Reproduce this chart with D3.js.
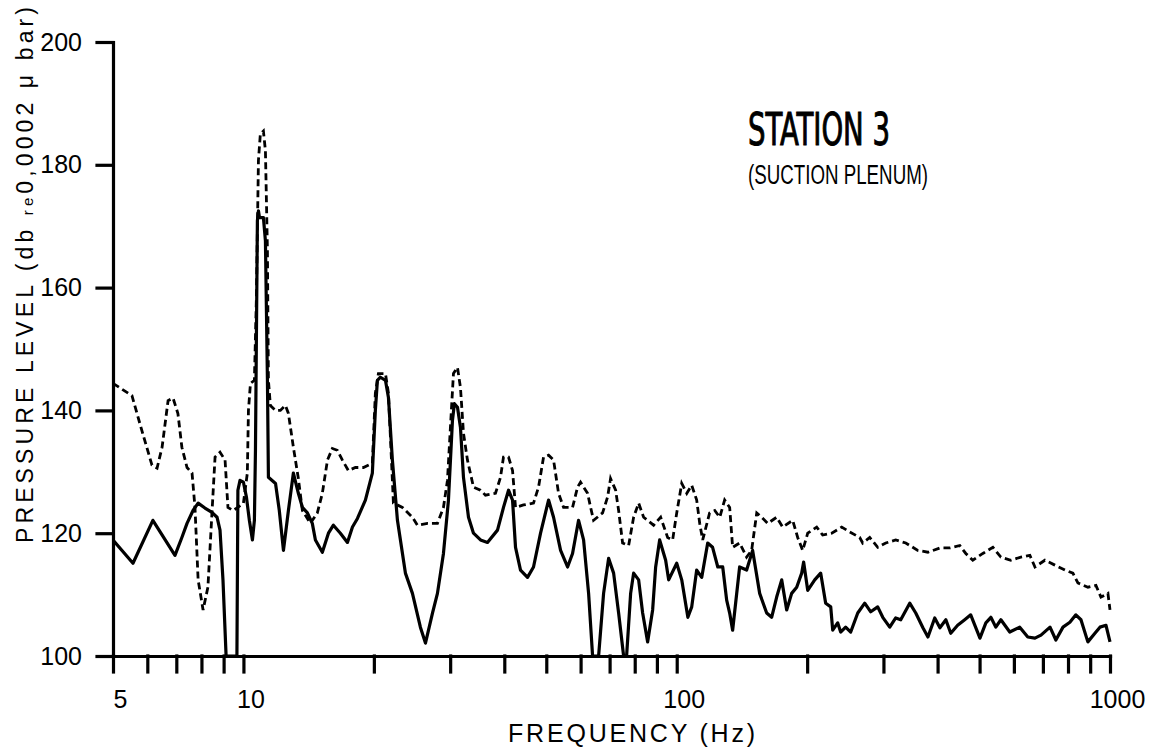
<!DOCTYPE html>
<html>
<head>
<meta charset="utf-8">
<script src="https://cdnjs.cloudflare.com/ajax/libs/d3/7.8.5/d3.min.js"></script>
<style>
  body { margin: 0; background: #fff; }
  svg { font-family: "Liberation Sans", Arial, sans-serif; }
  .axis path, .axis line { stroke: #000; stroke-width: 3.2; stroke-linecap: square; }
  .axis text { font-size: 25px; fill: #000; }
  path.solid { fill: none; stroke: #000; stroke-width: 3.2; stroke-linejoin: round; }
  path.dashed { fill: none; stroke: #000; stroke-width: 2.8; stroke-dasharray: 7,4; }
</style>
</head>
<body>
<script>

// frequency (Hz) / level (dB)
var solidFreq = [5, 5.56, 6.18, 6.56, 6.95, 7.21, 7.41, 7.65, 7.86, 8.15, 8.46, 8.69, 8.83, 8.97, 9.12, 9.66, 9.71, 9.82,
  10.0, 10.16, 10.32, 10.49, 10.6, 10.66, 10.77, 10.83, 10.89, 11.12, 11.24, 11.36, 11.42, 11.86, 12.1, 12.37, 12.7,
  13.04, 13.39, 13.68, 14.05, 14.42, 14.66, 15.21, 15.71, 16.13, 16.74, 17.38, 17.85, 18.33, 19.12, 19.84, 20.16,
  20.38, 20.71, 21.27, 21.61, 22.07, 22.67, 23.65, 24.55, 25.61, 26.31, 27.31, 28.04, 28.95, 29.73, 30.37, 30.69,
  31.19, 31.69, 32.2, 33.07, 33.96, 35.25, 36.58, 38.58, 39.83, 40.91, 41.79, 42.46, 43.6, 45.25, 46.72, 48.5,
  50.61, 51.97, 53.95, 55.99, 57.49, 59.36, 60.96, 62.61, 63.95, 66.03, 67.8, 69.63, 71.51, 73.44, 75.41, 76.62,
  78.28, 79.53, 81.68, 83.44, 85.68, 87.99, 89.41, 91.33, 94.29, 95.81,
  100, 102.7, 106.1, 108.3, 111.2, 114.2, 117.9, 121.0, 124.4, 127.7, 130.4, 132.5, 134.6, 139.7, 145.0, 149.7,
  155.4, 161.3, 165.6, 170.1, 174.7, 179.4, 184.2, 189.2, 194.3, 196.3, 200.6, 208.2, 214.9, 220.7, 226.7, 229.1,
  235.2, 239.0, 245.4, 252.1, 261.7, 271.6, 280.4, 291.0, 298.9, 310.2, 320.2, 328.9, 345.0, 356.2, 370, 380,
  394, 405, 418, 429, 445, 462, 477, 501, 517, 531, 545, 560, 587, 619, 646, 671, 693, 727, 750, 779, 808, 834,
  857, 889, 923, 948, 979, 1000];
var solidLevel = [118.9, 115.1, 122.1, 119.2, 116.4, 119.3, 121.6, 123.7, 124.9, 124.1, 123.4, 122.6, 120.5, 112.4, 100, 100, 127.0, 128.6,
  128.3, 125.9, 122.1, 118.9, 122.1, 133.5, 170.9, 172.5, 171.4, 171.4, 167.6, 144.9, 129.1, 128.1, 123.7, 117.2, 123.7,
  129.8, 126.5, 124.2, 123.3, 121.6, 118.9, 116.9, 120.0, 121.3, 120.0, 118.5, 121.0, 122.4, 125.4, 129.8, 140.0,
  144.9, 145.4, 144.9, 142.1, 131.9, 122.1, 113.5, 110.2, 104.7, 102.1, 107.0, 110.2, 116.7, 125.4, 138.4, 141.1,
  140.5, 137.2, 129.1, 122.6, 120.0, 118.9, 118.5, 120.5, 124.2, 127.0, 125.4, 117.7, 114.0, 112.8, 114.5, 120.0,
  125.4, 122.6, 117.2, 114.5, 116.7, 122.1, 118.9, 110.2, 100, 100, 110.2, 115.9, 113.5, 107.0, 100, 100,
  110.2, 113.5, 112.4, 107.0, 102.3, 107.5, 114.5, 118.9, 115.6, 112.4,
  115.1, 112.4, 106.3, 108.0, 114.0, 112.8, 118.4, 117.7, 114.5, 114.5, 109.1, 107.0, 104.2, 114.5, 114.0, 117.2,
  110.2, 107.0, 106.3, 109.6, 112.4, 107.5, 110.2, 111.2, 113.5, 115.3, 110.7, 112.4, 113.5, 108.6, 108.0, 104.2,
  105.4, 103.9, 104.7, 103.9, 107.0, 108.6, 107.2, 108.0, 106.3, 104.7, 106.2, 105.9, 108.6, 107.0, 104.6, 103.1,
  106.2, 104.6, 105.9, 103.7, 105.0, 105.9, 106.7, 102.9, 105.4, 106.3, 104.7, 105.9, 103.9, 104.7, 103.1, 102.9, 103.4, 104.7, 102.6, 104.7, 105.5, 106.7,
  105.9, 102.3, 103.7, 104.7, 105.0, 102.3];

var dashedFreq = [5, 5.53, 5.83, 6.15, 6.32, 6.49, 6.7, 6.88, 7.06, 7.21, 7.41, 7.61, 7.73, 7.86, 8.07, 8.28, 8.46, 8.6,
  8.83, 9.07, 9.21, 9.46, 9.71, 10.0, 10.21, 10.27, 10.38, 10.6, 10.71, 10.83, 10.94, 11.12, 11.24, 11.36, 11.42,
  11.54, 11.86, 12.17, 12.5, 12.7, 13.04, 13.39, 13.68, 14.27, 14.81, 15.21, 15.63, 16.04, 16.47, 16.92, 17.47,
  18.13, 18.92, 19.84, 20.16, 20.49, 21.27, 21.61, 22.19, 23.28, 24.55, 25.21, 26.59, 28.04, 28.95, 29.57, 30.04,
  30.53, 31.19, 31.69, 32.2, 32.89, 33.96, 35.25, 36.19, 38.17, 39.2, 39.83, 40.91, 41.79, 42.46, 44.3, 46.72,
  47.98, 49.28, 50.61, 51.97, 53.37, 54.81, 57.49, 59.04, 59.98, 62.27, 63.28, 64.29, 67.44, 69.26, 70.36, 72.28,
  73.44, 75.01, 77.45, 79.53, 81.68, 83.88, 88.46, 91.82, 95.3, 97.85,
  100, 102.7, 105.5, 108.3, 111.2, 113.0, 114.8, 119.1, 122.4, 125.7, 129.0, 132.5, 134.6, 139.7, 145.0, 148.9,
  153.0, 157.1, 162.2, 170.1, 175.6, 185.2, 190.2, 195.3, 200.6, 210.4, 217.2, 227.9, 240.3, 250.8, 264.5, 268.7,
  278.9, 291.0, 303.7, 320.2, 337.8, 360.0, 380.0, 405, 426.8, 450.1, 464.7, 482.4, 508.8, 536.6, 559.9, 590.4,
  622.7, 653.2, 671, 707.5, 746.1, 786.9, 821.1, 843.2, 889.3, 928.0, 953.0, 989.1, 1000];
var dashedLevel = [144.4, 142.4, 136.7, 131.1, 130.6, 134.0, 141.6, 142.0, 139.5, 134.0, 130.7, 129.8, 124.2, 112.4, 107.5, 111.2, 123.3, 132.4,
  133.2, 131.9, 124.2, 123.7, 124.2, 124.9, 129.8, 140.0, 144.4, 144.9, 157.9, 180.7, 185.0, 185.5, 182.3, 166.0, 144.9,
  140.8, 140.0, 140.0, 140.8, 139.5, 134.0, 128.9, 123.7, 121.6, 123.3, 126.5, 131.9, 133.8, 133.5, 131.9, 130.2,
  130.7, 130.7, 131.4, 142.8, 146.0, 146.0, 142.8, 124.9, 124.2, 122.6, 121.3, 121.6, 121.6, 124.2, 128.6, 137.2,
  146.0, 147.0, 143.7, 136.3, 131.9, 127.5, 127.0, 126.2, 126.5, 129.1, 132.4, 132.4, 130.2, 124.2, 124.6, 124.9,
  127.5, 132.4, 132.7, 131.9, 126.5, 124.2, 124.2, 127.5, 128.3, 126.5, 124.2, 122.1, 123.3, 125.9, 128.9, 127.0,
  123.7, 118.4, 118.0, 122.6, 124.9, 122.6, 121.3, 122.6, 119.3, 118.9,
  123.3, 128.1, 126.5, 127.8, 125.4, 121.6, 118.9, 123.3, 123.7, 122.6, 125.4, 124.2, 117.7, 118.4, 116.1, 117.2,
  123.3, 122.6, 121.6, 122.6, 121.0, 122.1, 119.3, 117.2, 120.0, 121.0, 119.7, 120.0, 121.0, 120.2, 119.3, 118.4,
  119.3, 117.7, 118.4, 118.9, 118.4, 117.2, 116.9, 117.6, 117.6, 118.0, 116.7, 115.6, 116.7, 117.7, 116.1, 115.6,
  116.1, 116.4, 114.5, 115.6, 114.8, 114.0, 113.5, 111.9, 111.2, 111.5, 109.6, 110.2, 107.5];

var xTicks = [5, 6, 7, 8, 9, 10, 20, 30, 40, 50, 60, 70, 80, 90, 100, 200, 300, 400, 500, 600, 700, 800, 900, 1000];
var xTickLabels = [5, 10, 100, 1000];
var yTicks = [100, 120, 140, 160, 180, 200];

var width = 1163;
var height = 751;

var svg = d3.select("body").append("svg")
  .attr("width", width)
  .attr("height", height);

var x = d3.scaleLog().domain([5, 1000]).range([113, 1110]);
var y = d3.scaleLinear().domain([100, 200]).range([656, 42]);

svg.append("clipPath")
  .attr("id", "plot")
  .append("rect")
  .attr("x", 113).attr("y", 0)
  .attr("width", 1000).attr("height", 656);

/* curves */
var line = d3.line()
  .x(function(d) { return x(d[0]); })
  .y(function(d) { return y(d[1]); });

svg.append("path")
  .attr("class", "dashed")
  .attr("clip-path", "url(#plot)")
  .attr("d", line(d3.zip(dashedFreq, dashedLevel)));

svg.append("path")
  .attr("class", "solid")
  .attr("clip-path", "url(#plot)")
  .attr("d", line(d3.zip(solidFreq, solidLevel)));

/* axes */
var xAxis = svg.append("g")
  .attr("class", "axis")
  .attr("transform", "translate(0,656)")
  .call(d3.axisBottom(x)
    .tickValues(xTicks)
    .tickSize(16)
    .tickSizeOuter(0)
    .tickPadding(18)
    .tickFormat(function(d) { return xTickLabels.indexOf(d) >= 0 ? d : ""; }));
xAxis.selectAll("text").attr("dx", 7);

svg.append("g")
  .attr("class", "axis")
  .attr("transform", "translate(113,0)")
  .call(d3.axisLeft(y)
    .tickValues(yTicks)
    .tickSize(16)
    .tickSizeOuter(0)
    .tickPadding(15));

/* titles */
svg.append("text")
  .attr("x", 748).attr("y", 145)
  .attr("textLength", 142)
  .attr("lengthAdjust", "spacingAndGlyphs")
  .style("font-size", "44px")
  .style("stroke", "#000")
  .style("stroke-width", 1)
  .style("font-family", "'DejaVu Sans Condensed', 'Liberation Sans Narrow', sans-serif")
  .text("STATION 3");

svg.append("text")
  .attr("x", 748).attr("y", 184)
  .attr("textLength", 180)
  .attr("lengthAdjust", "spacingAndGlyphs")
  .style("font-size", "27px")
  .text("(SUCTION PLENUM)");

svg.append("text")
  .attr("x", 508).attr("y", 742)
  .attr("textLength", 247)
  .attr("lengthAdjust", "spacing")
  .style("font-size", "25px")
  .text("FREQUENCY (Hz)");

var ylab = svg.append("text")
  .attr("transform", "translate(33,543) rotate(-90)")
  .attr("textLength", 536)
  .attr("lengthAdjust", "spacing")
  .style("font-size", "23px");
ylab.append("tspan").text("PRESSURE LEVEL (db ");
ylab.append("tspan").style("font-size", "15px").text("re");
ylab.append("tspan").text("0,0002 \u03bc bar)");

</script>
</body>
</html>
